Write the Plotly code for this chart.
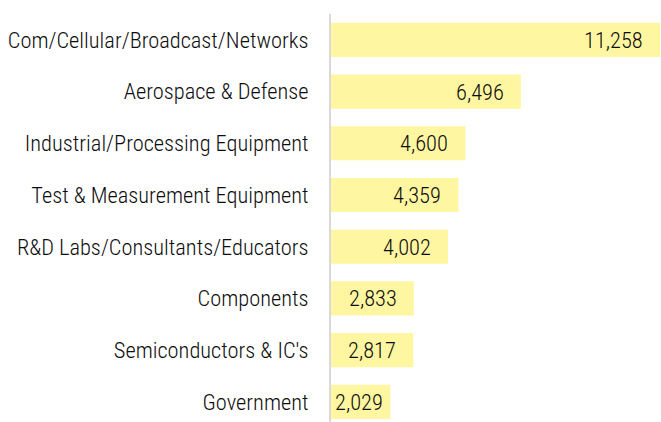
import plotly.graph_objects as go

categories = [
    "Com/Cellular/Broadcast/Networks",
    "Aerospace & Defense",
    "Industrial/Processing Equipment",
    "Test & Measurement Equipment",
    "R&D Labs/Consultants/Educators",
    "Components",
    "Semiconductors & IC's",
    "Government",
]
values = [11258, 6496, 4600, 4359, 4002, 2833, 2817, 2029]

FONT = "Roboto Condensed"
FONT_SIZE = 22.4
BAR_COLOR = "#fff6a2"
TEXT_COLOR = "#0d0d0d"

x_max = 11290
plot_w = 661 - 331
fig = go.Figure(go.Bar(
    x=values, y=categories, orientation="h",
    marker=dict(color=BAR_COLOR, line=dict(width=0)),
    hoverinfo="skip",
))

# value labels sit inside the bar end; short bars get them at the base
for cat, v in zip(categories, values):
    bar_px = v / x_max * plot_w
    label = f"{v:,}"
    font = dict(family=FONT, size=FONT_SIZE, weight=300, color=TEXT_COLOR)
    if bar_px < 66:
        fig.add_annotation(x=0, y=cat, text=label, showarrow=False,
                           xanchor="left", xshift=2, font=font)
    else:
        fig.add_annotation(x=v, y=cat, text=label, showarrow=False,
                           xanchor="right", xshift=-15, font=font)

fig.update_layout(
    width=661, height=422,
    margin=dict(l=331, r=0, t=14, b=0),
    paper_bgcolor="white", plot_bgcolor="white",
    bargap=0.34,
    showlegend=False,
    xaxis=dict(range=[0, x_max], visible=False, fixedrange=True),
    yaxis=dict(
        categoryorder="array", categoryarray=categories,
        range=[7.39, -0.5],
        showline=True, linecolor="#d9d9d9", linewidth=2,
        showgrid=False, zeroline=False,
        ticks="", ticklabelstandoff=16,
        tickfont=dict(family=FONT, size=FONT_SIZE, weight=300, color=TEXT_COLOR),
    ),
)

fig.write_html(
    "out.html",
    config={"responsive": False, "displayModeBar": False},
    post_script="document.body.style.margin='0';",
)
